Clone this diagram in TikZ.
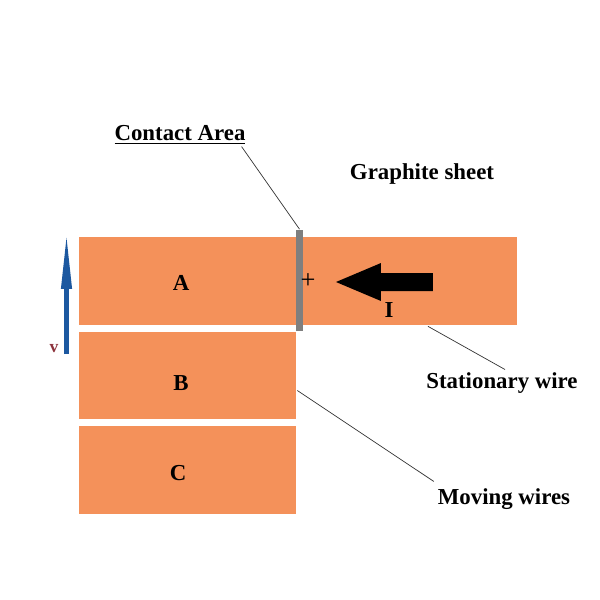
\documentclass[tikz,border=0pt]{standalone}
\usepackage{fontspec}
\setmainfont{Liberation Serif}
\usepackage{xcolor}
\definecolor{wireorange}{RGB}{244,145,90}
\definecolor{bargray}{RGB}{127,127,127}
\definecolor{vblue}{RGB}{28,88,160}
\definecolor{vred}{RGB}{140,50,60}
\usetikzlibrary{calc}
\usetikzlibrary{arrows.meta}

\tikzset{
    wire/.style={fill=wireorange, draw=none, inner sep=0pt},
    lbl/.style={font=\bfseries\fontsize{13}{15}\selectfont, inner sep=1pt},
    lead/.style={draw=black!80, line width=0.4pt}
}

\begin{document}
\begin{tikzpicture}[x=0.02cm, y=-0.02cm]
        \useasboundingbox (0,0) rectangle (600,600);

        % Moving wires
        \node[wire, minimum width=4.34cm, minimum height=1.76cm] (A) at (187.5,281) {};
        \node[wire, minimum width=4.34cm, minimum height=1.74cm] (B) at (187.5,375.5) {};
        \node[wire, minimum width=4.34cm, minimum height=1.76cm] (C) at (187.5,470) {};

        % Stationary wire
        \node[wire, minimum width=4.28cm, minimum height=1.76cm] (S) at (410,281) {};

        % Contact bar
        \node[fill=bargray, inner sep=0pt, minimum width=0.14cm, minimum height=2.04cm] (bar) at (299.5,280.5) {};

        % Labels in wires
        \node[lbl] (la) at (181,283) {A};
        \node[lbl] (lb) at (181,383) {B};
        \node[lbl] (lc) at (178,473) {C};
        \node[font=\fontsize{15}{17}\selectfont] (plus) at (308,281) {+};
        \node[lbl] (li) at (389,310) {I};

        % Current arrow
        \fill (336,282) -- (381,263) -- (381,273) -- (433,273) -- (433,291) -- (381,291) -- (381,301) -- cycle;

        % Velocity
        \coordinate (vbot) at (66.5,354);
        \coordinate (vtop) at (66.5,234);
        \draw[vblue, line width=2.3pt, -{Triangle[length=1.1cm, width=0.2cm]}] (vbot) -- (vtop);
        \node[font=\bfseries\fontsize{10}{12}\selectfont, text=vred] (v) at (54,349) {v};

        % Texts
        \node[lbl] (contact) at (180,135) {\underline{Contact Area}};
        \node[lbl] (graphite) at (422,174) {Graphite sheet};
        \node[lbl] (stat) at (502,383) {Stationary wire};
        \node[lbl] (moving) at (504,499) {Moving wires};

        % Leader lines
        \draw[lead] ($(contact.south east)+(-6,0)$) -- (bar.north);
        \draw[lead] ($(S.south)+(18,1)$) -- ($(stat.north)+(3,-1)$);
        \draw[lead] ($(B.east)+(1,15)$) -- ($(moving.north west)+(-2,-5)$);
\end{tikzpicture}
\end{document}
